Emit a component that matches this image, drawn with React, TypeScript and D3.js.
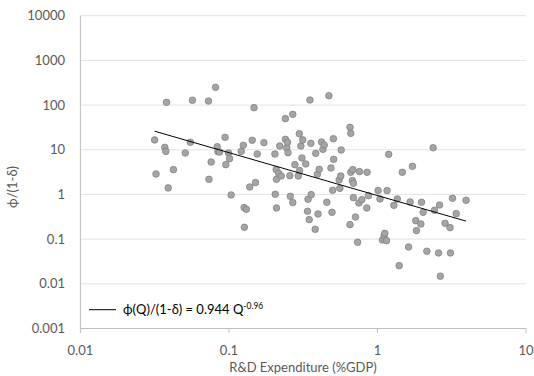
import React from "react";
import * as d3 from "d3";

// R&D expenditure (%GDP) per country
const rdExpenditure = [
  0.0316, 0.0323, 0.038, 0.037, 0.0376, 0.039, 0.0423, 0.0508, 0.055, 0.0568,
  0.0728, 0.0734, 0.0759, 0.0813, 0.0834, 0.0843, 0.0865, 0.0942, 0.0953, 0.0993,
  0.101, 0.1035, 0.121, 0.125, 0.1265, 0.127, 0.131, 0.138, 0.1435, 0.1476,
  0.151, 0.155, 0.172, 0.204, 0.205, 0.208, 0.209, 0.209, 0.216, 0.22,
  0.225, 0.24, 0.24, 0.245, 0.248, 0.25, 0.257, 0.259, 0.269, 0.269,
  0.278, 0.293, 0.298, 0.299, 0.305, 0.31, 0.314, 0.329, 0.338, 0.341,
  0.347, 0.351, 0.356, 0.358, 0.381, 0.384, 0.394, 0.398, 0.405, 0.42,
  0.429, 0.438, 0.456, 0.471, 0.486, 0.494, 0.499, 0.505, 0.507, 0.552,
  0.558, 0.566, 0.57, 0.653, 0.661, 0.653, 0.661, 0.678, 0.689, 0.689,
  0.683, 0.711, 0.735, 0.75, 0.757, 0.785, 0.851, 0.848, 0.869, 1.01,
  1.04, 1.08, 1.11, 1.12, 1.15, 1.16, 1.19, 1.29, 1.36, 1.4,
  1.47, 1.62, 1.66, 1.72, 1.81, 1.83, 1.96, 1.98, 2.03, 2.15,
  2.37, 2.42, 2.58, 2.62, 2.65, 2.85, 3.08, 3.1, 3.2, 3.39, 3.95,
];

// phi/(1-delta), same order
const phiRatio = [
  16.6, 2.87, 115, 11.3, 9.2, 1.4, 3.59, 8.47, 14.7, 128,
  123, 2.18, 5.32, 249, 11.7, 9.07, 8.9, 19.0, 4.64, 8.47,
  6.32, 0.973, 9.2, 12.6, 0.507, 0.184, 0.465, 1.47, 16.3, 87.5,
  1.84, 8.04, 14.4, 8.04, 1.01, 3.59, 2.18, 0.498, 2.97, 12.1,
  2.59, 49.7, 17.1, 11.0, 14.7, 8.6, 2.63, 0.908, 0.656, 62,
  4.64, 2.59, 22.9, 3.41, 12.1, 6.54, 16.6, 4.81, 0.42, 0.778,
  0.273, 130, 13.9, 0.99, 0.166, 8.3, 2.82, 0.366, 3.65, 14.9,
  10.2, 12.8, 0.667, 162, 3.91, 0.398, 1.24, 17.7, 6.11, 2.11,
  1.37, 2.59, 9.9, 31.8, 23.3, 0.211, 3.13, 2.04, 1.77, 0.848,
  3.59, 0.313, 0.085, 0.644, 3.24, 0.766, 3.13, 0.498, 0.94, 1.22,
  0.792, 0.0958, 0.12, 0.135, 0.0925, 1.22, 7.9, 0.571, 0.792, 0.0255,
  3.13, 0.0668, 0.678, 4.26, 0.259, 0.155, 0.218, 0.667, 0.398, 0.0535,
  11.1, 0.442, 0.049, 0.581, 0.0148, 0.226, 0.181, 0.049, 0.82, 0.372, 0.74,
];

const xTicks = [0.01, 0.1, 1, 10];
const xTickLabels = ["0.01", "0.1", "1", "10"];
const yTicks = [0.001, 0.01, 0.1, 1, 10, 100, 1000, 10000];
const yTickLabels = ["0.001", "0.01", "0.1", "1", "10", "100", "1000", "10000"];

// power-law fit shown in the legend
const fitCoef = 0.944;
const fitExp = -0.96;

const W = 534;
const H = 376;
const margin = { top: 15.7, right: 8, bottom: 47.5, left: 80.4 };
const font = "Lato, 'Liberation Sans', sans-serif";
const labelColor = "#595959";

export default function App() {
  const x = d3.scaleLog().domain([0.01, 10]).range([margin.left, W - margin.right]);
  const y = d3.scaleLog().domain([0.001, 10000]).range([H - margin.bottom, margin.top]);

  const pts = rdExpenditure.map((v, i) => ({ x: v, y: phiRatio[i] }));
  const [xMin, xMax] = d3.extent(rdExpenditure) as [number, number];
  const fit = (q: number) => fitCoef * Math.pow(q, fitExp);
  const line = d3.line<number>().x(q => x(q)).y(q => y(fit(q)));

  const x0 = margin.left;
  const x1 = W - margin.right;
  const yb = H - margin.bottom;

  return (
    <svg
      width={W}
      height={H}
      style={{ position: "fixed", left: 0, top: 0, background: "#fff" }}
      fontFamily={font}
    >
      {/* horizontal gridlines */}
      {yTicks.slice(1).map(t => (
        <line key={t} x1={x0} x2={x1} y1={y(t)} y2={y(t)} stroke="#e3e3e3" strokeWidth={1} />
      ))}

      {/* axes */}
      <line x1={x0} x2={x0} y1={margin.top} y2={yb} stroke="#bfbfbf" />
      <line x1={x0} x2={x1} y1={yb} y2={yb} stroke="#bfbfbf" />
      {xTicks.map(t => (
        <line key={t} x1={x(t)} x2={x(t)} y1={yb} y2={yb + 4.5} stroke="#bfbfbf" />
      ))}

      {/* tick labels */}
      {yTicks.map((t, i) => (
        <text key={t} x={65} y={y(t)} dy="0.35em" textAnchor="end" fontSize={13} fill={labelColor}>
          {yTickLabels[i]}
        </text>
      ))}
      {xTicks.map((t, i) => (
        <text key={t} x={x(t)} y={355} textAnchor="middle" fontSize={13} fill={labelColor}>
          {xTickLabels[i]}
        </text>
      ))}

      {/* axis titles */}
      <text x={303} y={372} textAnchor="middle" fontSize={13} fill={labelColor}>
        R&amp;D Expenditure (%GDP)
      </text>
      <text
        transform="translate(17,187) rotate(-90)"
        textAnchor="middle"
        fontSize={13}
        fill={labelColor}
      >
        ϕ/(1-δ)
      </text>

      {/* points */}
      {pts.map((d, i) => (
        <circle key={i} cx={x(d.x)} cy={y(d.y)} r={3.3} fill="#a5a5a5" stroke="#7f7f7f" strokeWidth={0.75} />
      ))}

      {/* trend line */}
      <path d={line([xMin, xMax]) ?? ""} fill="none" stroke="#000" strokeWidth={1} />

      {/* legend */}
      <line x1={89} x2={116} y1={309.7} y2={309.7} stroke="#000" strokeWidth={1} />
      <text x={123} y={314.3} fontSize={13} fill="#000">
        ϕ(Q)/(1-δ) = 0.944 Q<tspan fontSize={8.5} dy={-5}>-0.96</tspan>
      </text>
    </svg>
  );
}
